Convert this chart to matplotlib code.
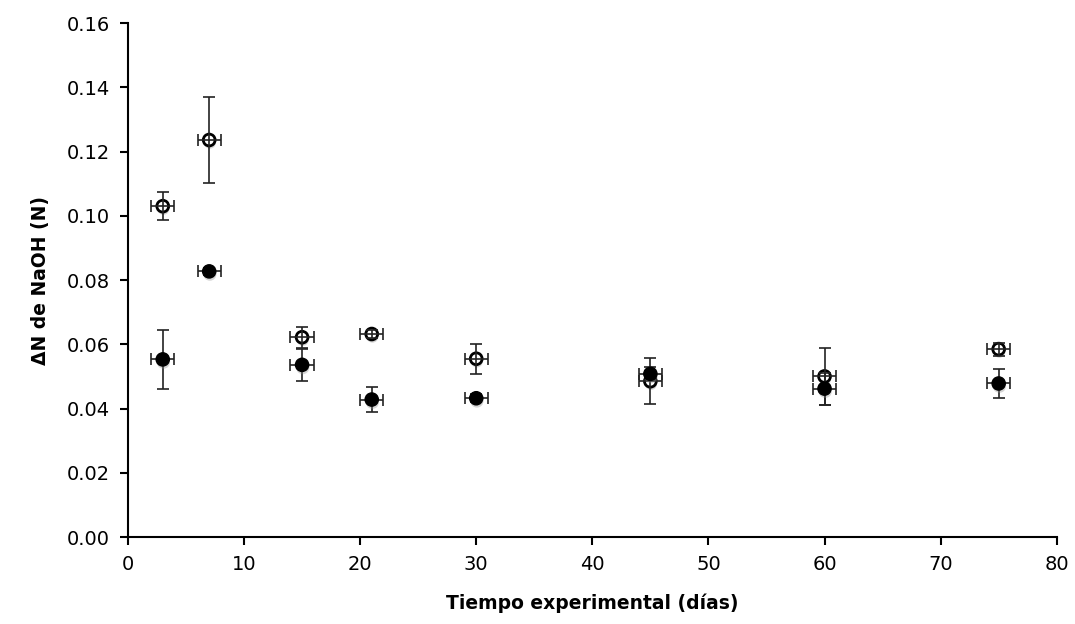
import matplotlib
matplotlib.use('Agg')
import matplotlib.pyplot as plt
import matplotlib.patheffects as pe
from matplotlib.ticker import FormatStrFormatter

# Datos
dias = [3, 7, 15, 21, 30, 45, 60, 75]
dias_err = [1, 1, 1, 1, 1, 1, 1, 1]

# serie con circulos abiertos
abierto = [0.103, 0.1236, 0.0622, 0.0632, 0.0555, 0.0485, 0.0500, 0.0585]
abierto_err = [0.0043, 0.0134, 0.0033, 0.0012, 0.0046, 0.0072, 0.0088, 0.0020]

# serie con circulos rellenos
relleno = [0.0553, 0.0827, 0.0536, 0.0428, 0.0432, 0.0508, 0.0462, 0.0478]
relleno_err = [0.0092, 0.0012, 0.0050, 0.0040, 0.0012, 0.0020, 0.0050, 0.0045]

plt.rcParams['font.family'] = ['DejaVu Sans']

fig = plt.figure(figsize=(10.75, 6.24), dpi=100)
ax = fig.add_axes([0.119, 0.1394, 0.864, 0.8236])

sombra = [pe.SimplePatchShadow(offset=(0.5, -2), shadow_rgbFace='0.55', alpha=0.35), pe.Normal()]

# circulos abiertos: barras de error encima del marcador
m1, = ax.plot(dias, abierto, 'o', ms=8.5, mfc='white', mec='black', mew=2, zorder=3)
m1.set_path_effects(sombra)
ax.errorbar(dias, abierto, xerr=dias_err, yerr=abierto_err, fmt='none',
            ecolor='#222222', elinewidth=1.2, capsize=4, capthick=1.2, zorder=4)

# circulos rellenos
ax.errorbar(dias, relleno, xerr=dias_err, yerr=relleno_err, fmt='none',
            ecolor='#222222', elinewidth=1.2, capsize=4, capthick=1.2, zorder=5)
m2, = ax.plot(dias, relleno, 'o', ms=9.5, mfc='black', mec='black', mew=1, zorder=6)
m2.set_path_effects(sombra)

ax.set_xlim(0, 80)
ax.set_ylim(0, 0.16)
ax.set_xticks(range(0, 81, 10))
ax.set_yticks([i * 0.02 for i in range(9)])
ax.yaxis.set_major_formatter(FormatStrFormatter('%.2f'))

ax.spines['top'].set_visible(False)
ax.spines['right'].set_visible(False)
ax.spines['left'].set_linewidth(1.5)
ax.spines['bottom'].set_linewidth(1.5)
ax.tick_params(direction='out', length=6, width=1.5, labelsize=14, pad=7)

ax.set_xlabel('Tiempo experimental (días)', fontsize=13.5, fontweight='bold', labelpad=14)
ax.set_ylabel('ΔN de NaOH (N)', fontsize=13.5, fontweight='bold', labelpad=12)

plt.savefig('out.png', dpi=100)
